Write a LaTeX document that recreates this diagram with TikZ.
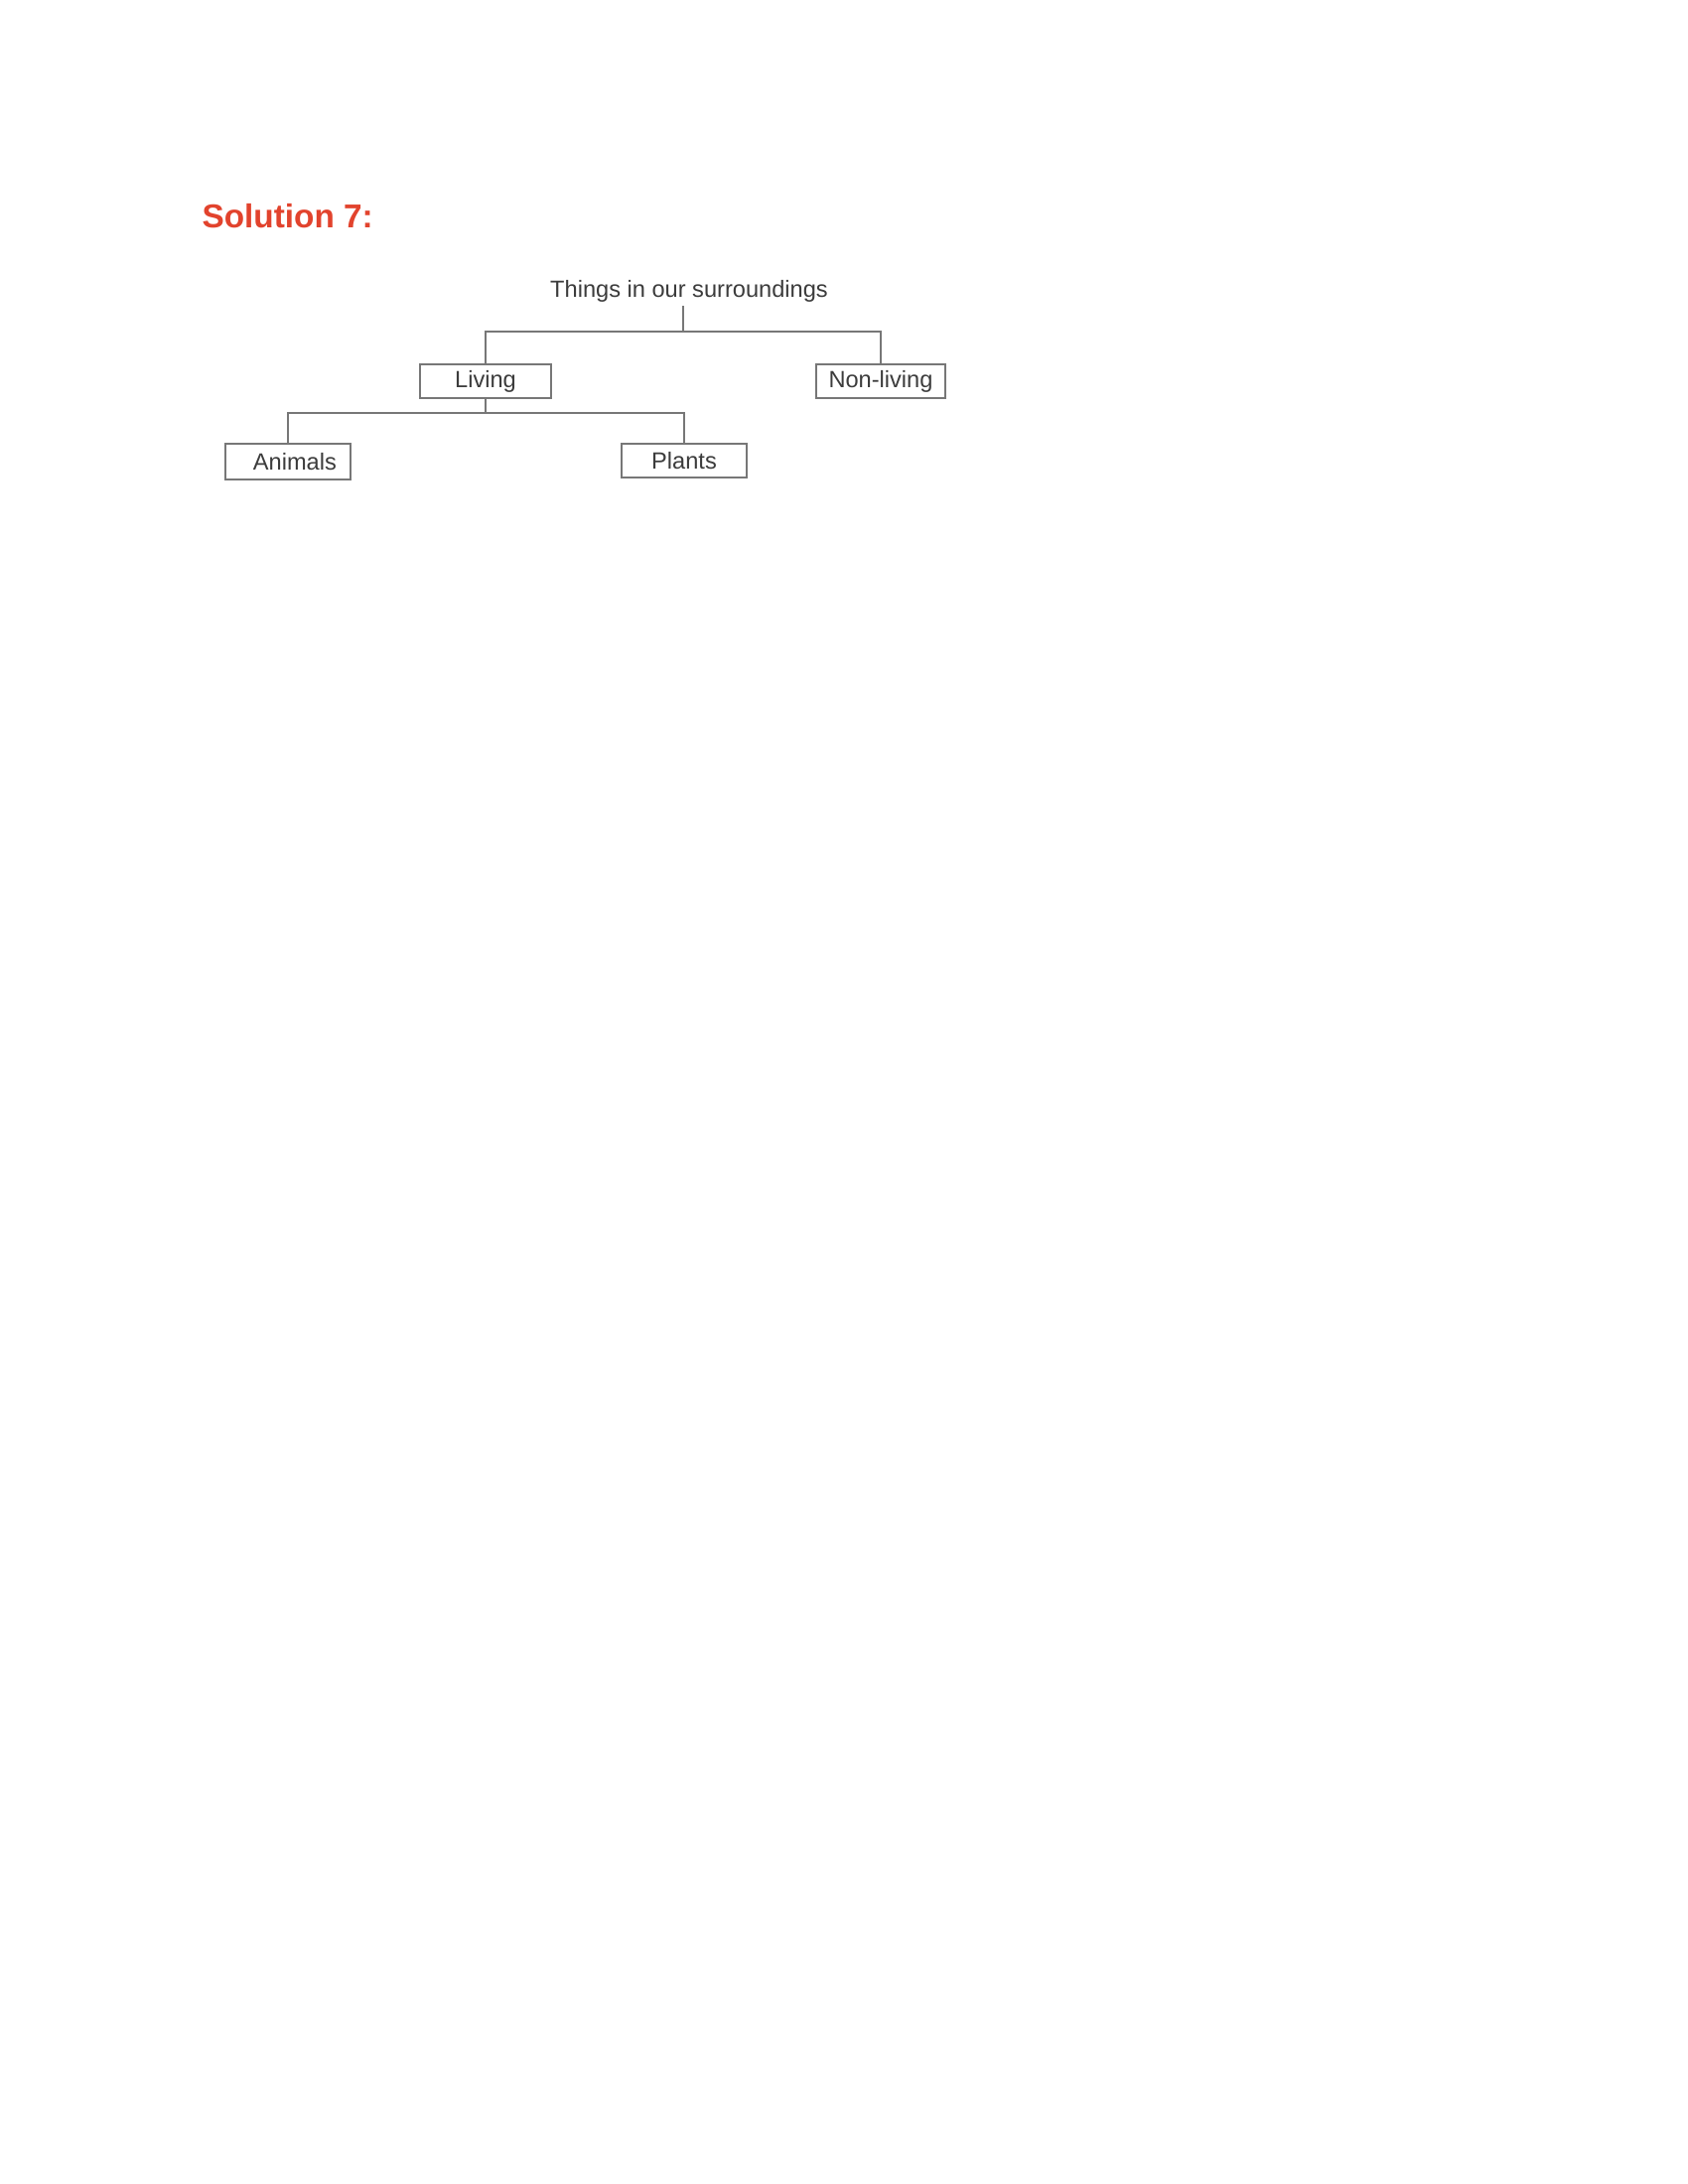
\documentclass[tikz,border=0pt]{standalone}
\usepackage{fontspec}
\setmainfont{Liberation Sans}
\definecolor{solred}{HTML}{E2432D}
\definecolor{linegray}{HTML}{777777}
\definecolor{txtgray}{HTML}{3C3C3C}
\begin{document}
\begin{tikzpicture}[x=0.36pt,y=-0.36pt,
  heading/.style={font=\fontsize{12}{14}\selectfont\bfseries, text=solred, inner sep=0pt, anchor=base west},
  titletext/.style={font=\fontsize{8.5}{10}\selectfont, text=txtgray, inner sep=1pt, anchor=base},
  boxnode/.style={draw=linegray, line width=0.9pt, font=\fontsize{8.5}{10}\selectfont, text=txtgray, inner sep=0pt, minimum height=12.2pt},
  link/.style={draw=linegray, line width=0.85pt}]
\useasboundingbox (0,0) rectangle (1700,2200);
\fill[white] (0,0) rectangle (1700,2200);
\node[heading] (sol) at (203,230) {Solution 7:};
\node[titletext] (title) at (694,300) {Things in our surroundings};
\node[boxnode, minimum width=47.5pt] (living) at (489,384) {Living};
\node[boxnode, minimum width=46.8pt] (nonliving) at (887,384) {Non-living};
\node[boxnode, minimum width=45.4pt, minimum height=12.8pt] (animals) at (290,465) {\hspace*{5pt}Animals};
\node[boxnode, minimum width=45.4pt] (plants) at (689,464) {Plants};
\coordinate (j1) at (688,334);
\coordinate (j2) at (489,416);
\draw[link] (j1 |- title.south) -- (j1);
\draw[link] (living.north) |- (j1) -| (nonliving.north);
\draw[link] (living.south) -- (j2);
\draw[link] (animals.north) |- (j2) -| (plants.north);
\end{tikzpicture}
\end{document}
